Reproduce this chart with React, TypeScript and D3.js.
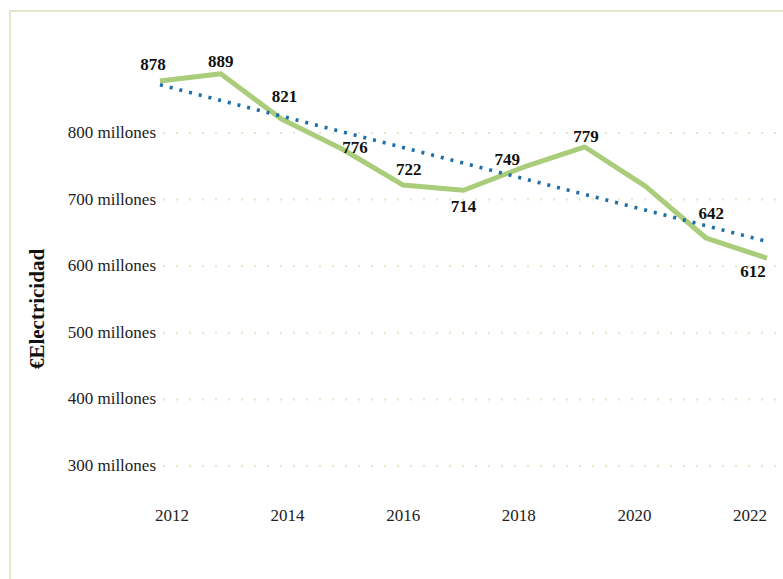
import React from "react";
import * as d3 from "d3";

const years = [2012, 2013, 2014, 2015, 2016, 2017, 2018, 2019, 2020, 2021, 2022];
const values = [878, 889, 821, 776, 722, 714, 749, 779, 720, 642, 612];
const showLabel = [true, true, true, true, true, true, true, true, false, true, true];
const yTicks = [300, 400, 500, 600, 700, 800];
const xTickYears = [2012, 2014, 2016, 2018, 2020, 2022];
const yTitle = "€Electricidad";

// label placement offsets (dx, dy) relative to the point
const labelOffsets: [number, number][] = [
  [-7, -11], [0, -7], [3, -17], [13, 4], [6, -10], [0, 22],
  [-17, -2], [1, -5], [0, 0], [5, -19], [-14, 19],
];

export default function App() {
  const W = 783, H = 579;
  const x = d3.scaleLinear().domain([2012, 2022]).range([160, 767]);
  const xTick = d3.scaleLinear().domain([2012, 2022]).range([172, 750]);
  const y = d3.scaleLinear().domain([300, 800]).range([466, 133]);

  const line = d3.line<number>().x((_, i) => x(years[i])).y((v) => y(v));

  // linear regression trend
  const mx = d3.mean(years)!;
  const my = d3.mean(values)!;
  const slope =
    d3.sum(years, (yr, i) => (yr - mx) * (values[i] - my)) /
    d3.sum(years, (yr) => (yr - mx) * (yr - mx));
  const trend = (yr: number) => my + slope * (yr - mx);
  const x0 = years[0], x1 = years[years.length - 1];

  const font = "'Liberation Serif', 'Times New Roman', serif";

  return (
    <svg width={W} height={H} style={{ position: "absolute", left: 0, top: 0, background: "#fff" }}>
      <rect x={10} y={11} width={W + 10} height={H + 10} fill="#fff" stroke="#dfe8c8" strokeWidth={2} />
      {yTicks.map((t) => (
        <g key={t}>
          <line x1={163} x2={776} y1={y(t)} y2={y(t)} stroke="#e2e8c8" strokeWidth={2} strokeDasharray="2,11" />
          <text x={156} y={y(t) + 5} textAnchor="end" fontFamily={font} fontSize={17} fill="#222">
            {t} millones
          </text>
        </g>
      ))}
      {xTickYears.map((t) => (
        <text key={t} x={xTick(t)} y={521} textAnchor="middle" fontFamily={font} fontSize={17} fill="#222">
          {t}
        </text>
      ))}
      <text
        transform={`translate(44, 309) rotate(-90)`}
        textAnchor="middle"
        fontFamily={font}
        fontSize={21}
        fontWeight="bold"
        fill="#111"
      >
        {yTitle}
      </text>
      <path d={line(values) || ""} fill="none" stroke="#a9cd7a" strokeWidth={5} strokeLinejoin="round" />
      <line
        x1={x(x0)}
        y1={y(trend(x0))}
        x2={x(x1)}
        y2={y(trend(x1))}
        stroke="#1f6ea8"
        strokeWidth={3.5}
        strokeDasharray="3,7"
      />
      {values.map((v, i) =>
        showLabel[i] ? (
          <text
            key={i}
            x={x(years[i]) + labelOffsets[i][0]}
            y={y(v) + labelOffsets[i][1]}
            textAnchor="middle"
            fontFamily={font}
            fontSize={17}
            fontWeight="bold"
            fill="#111"
          >
            {v}
          </text>
        ) : null
      )}
    </svg>
  );
}
